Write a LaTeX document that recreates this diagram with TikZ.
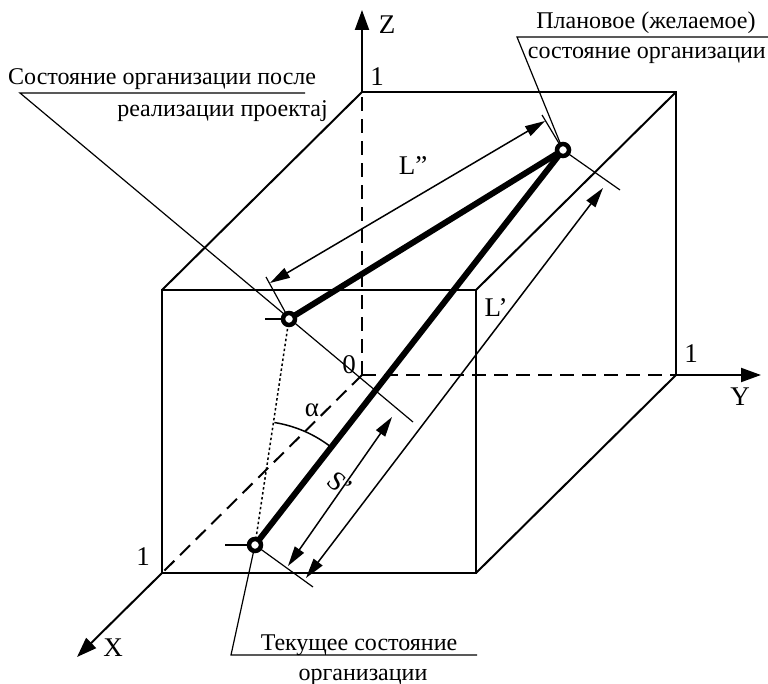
\documentclass[tikz,border=0pt]{standalone}
\usepackage{fontspec}
\setmainfont{Liberation Serif}
\usetikzlibrary{arrows.meta,calc}
\tikzset{
  edge/.style={line width=2pt},
  hidden/.style={line width=2pt, dash pattern=on 14pt off 8pt},
  thin/.style={line width=1.2pt},
  dim/.style={line width=1.5pt, {Triangle[length=20pt,width=11pt]}-{Triangle[length=20pt,width=11pt]}},
  axis/.style={line width=2pt, -{Triangle[length=20pt,width=14pt]}},
  thick state/.style={line width=6pt},
  ring/.style={circle, draw, line width=4.5pt, fill=white, minimum size=12pt, inner sep=0pt},
  txt/.style={font=\fontsize{24}{28}\selectfont, inner sep=0pt},
  lbl/.style={font=\fontsize{27}{32}\selectfont, inner sep=0pt},
}
\begin{document}
\begin{tikzpicture}[x=1pt,y=-1pt]
\useasboundingbox (0,0) rectangle (768,684);
% cube points
\coordinate (O) at (362,375);
\coordinate (Z1) at (362,92);
\coordinate (Y1) at (676,375);
\coordinate (ZY) at (676,92);
\coordinate (X1) at (162,573);
\coordinate (XZ) at (162,290);
\coordinate (XY) at (476,573);
\coordinate (XYZ) at (476,290);
\coordinate (Zend) at (362,10);
\coordinate (Yend) at (761,375);
\coordinate (Xend) at (77,657);
% hidden edges / axes
\draw[hidden] (O) -- (Z1);
\draw[hidden] (O) -- (Y1);
\draw[hidden] (O) -- (X1);
\draw[axis] (Z1) -- (Zend);
\draw[axis] (Y1) -- (Yend);
\draw[axis] (X1) -- (Xend);
% visible edges
\draw[edge] (Z1) -- (ZY) -- (Y1);
\draw[edge] (Z1) -- (XZ);
\draw[edge] (ZY) -- (XYZ);
\draw[edge] (Y1) -- (XY);
\draw[edge] (XZ) rectangle (XY);
% states
\coordinate (Pc) at (563,150);
\coordinate (Ac) at (289,319);
\coordinate (Cc) at (255,545);
% leaders and extension lines
\coordinate (tl) at (20,93);
\coordinate (tlr) at (305,93);
\coordinate (Aext) at (413,422);
\draw[thin] (tlr) -- (tl) -- (Aext);
\coordinate (tp) at (517,37);
\coordinate (tpr) at (768,37);
\draw[thin] (tpr) -- (tp) -- (Pc);
\coordinate (Pup) at (542,115);
\coordinate (Pdn) at (620,190);
\draw[thin] (Pup) -- (Pc) -- (Pdn);
\coordinate (Aup) at (266,277);
\coordinate (Atick) at (265,319);
\draw[thin] (Aup) -- (Ac);
\draw[thin] (Atick) -- (Ac);
\coordinate (Cdn) at (313,587);
\coordinate (Ctick) at (225,545);
\draw[thin] (Cc) -- (Cdn);
\draw[thin] (Ctick) -- (Cc);
\coordinate (tc) at (231,655);
\coordinate (tcr) at (477,655);
\draw[thin] (Cc) -- (tc) -- (tcr);
% dotted
\draw[line width=1.5pt, dash pattern=on 2.5pt off 2.5pt] (Ac) -- (Cc);
% angle
\draw[line width=1.5pt] (Cc) ++(-81:124) arc[start angle=-81, end angle=-52, radius=124];
% dimension arrows
\coordinate (L2a) at (545,121);
\coordinate (L2b) at (270,283);
\draw[dim] (L2a) -- (L2b);
\coordinate (L1a) at (603,188);
\coordinate (L1b) at (306,578);
\draw[dim] (L1a) -- (L1b);
\coordinate (Sa) at (392,417);
\coordinate (Sb) at (288,566);
\draw[dim] (Sa) -- (Sb);
% thick lines
\draw[thick state] (Cc) -- (Pc);
\draw[thick state] (Ac) -- (Pc);
\node[ring] (P) at (Pc) {};
\node[ring] (A) at (Ac) {};
\node[ring] (C) at (Cc) {};
% labels
\node[lbl] (zl) at (387,25) {Z};
\node[lbl] (z1) at (377,77) {1};
\node[lbl] (yl) at (740,397) {Y};
\node[lbl] (y1) at (691,354) {1};
\node[lbl] (xl) at (113,648) {X};
\node[lbl] (x1) at (143,557) {1};
\node[lbl] (ol) at (349,365) {0};
\node[lbl] (L2) at (413,166) {L”};
\node[lbl] (L1) at (496,308) {L’};
\node[lbl] (al) at (312,410) {α};
\node[lbl, rotate=-40] (sl) at (340,484) {S’};
% texts
\node[txt, anchor=base west] (t1) at (8,85) {Состояние организации после};
\node[txt, anchor=base east] (t2) at (328,117) {реализации проектај};
\node[txt, anchor=base] (t3) at (646,29) {Плановое (желаемое)};
\node[txt, anchor=base east] (t4) at (766,59) {состояние организации};
\node[txt, anchor=base] (t5) at (359,650) {Текущее состояние};
\node[txt, anchor=base] (t6) at (363,680) {организации};
\end{tikzpicture}
\end{document}
